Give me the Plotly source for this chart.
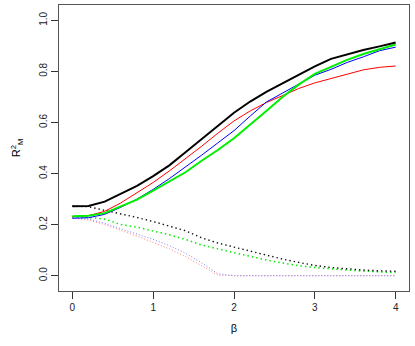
import plotly.graph_objects as go

# beta grid and R^2_M curves
beta = [0.0, 0.2, 0.4, 0.6, 0.8, 1.0, 1.2, 1.4, 1.6, 1.8, 2.0,
        2.2, 2.4, 2.6, 2.8, 3.0, 3.2, 3.4, 3.6, 3.8, 4.0]

black_solid = [0.272, 0.273, 0.290, 0.322, 0.352, 0.390, 0.432, 0.483, 0.535, 0.588, 0.638,
               0.682, 0.720, 0.753, 0.788, 0.820, 0.849, 0.867, 0.884, 0.898, 0.913]
red_solid = [0.231, 0.235, 0.252, 0.285, 0.325, 0.365, 0.410, 0.458, 0.507, 0.558, 0.606,
             0.645, 0.678, 0.705, 0.733, 0.755, 0.773, 0.790, 0.806, 0.816, 0.821]
blue_solid = [0.225, 0.227, 0.240, 0.268, 0.300, 0.338, 0.380, 0.425, 0.472, 0.520, 0.568,
              0.625, 0.680, 0.715, 0.750, 0.785, 0.808, 0.835, 0.857, 0.881, 0.895]
green_solid = [0.233, 0.235, 0.245, 0.270, 0.298, 0.333, 0.368, 0.405, 0.450, 0.492, 0.538,
               0.590, 0.645, 0.700, 0.748, 0.790, 0.819, 0.845, 0.868, 0.887, 0.905]

black_dot = [0.273, 0.270, 0.256, 0.243, 0.228, 0.212, 0.195, 0.176, 0.148, 0.128, 0.112,
             0.096, 0.081, 0.065, 0.052, 0.040, 0.032, 0.026, 0.022, 0.019, 0.017]
green_dot = [0.230, 0.228, 0.222, 0.200, 0.190, 0.175, 0.160, 0.142, 0.120, 0.105, 0.090,
             0.075, 0.061, 0.050, 0.039, 0.032, 0.026, 0.022, 0.018, 0.015, 0.012]
blue_dot = [0.227, 0.222, 0.205, 0.185, 0.162, 0.142, 0.118, 0.088, 0.050, 0.008, 0.0,
            0.0, 0.0, 0.0, 0.0, 0.0, 0.0, 0.0, 0.0, 0.0, 0.0]
red_dot = [0.225, 0.218, 0.200, 0.178, 0.155, 0.130, 0.105, 0.075, 0.040, 0.002, 0.0,
           0.0, 0.0, 0.0, 0.0, 0.0, 0.0, 0.0, 0.0, 0.0, 0.0]

x_ticks = [0, 1, 2, 3, 4]
y_ticks = [0.0, 0.2, 0.4, 0.6, 0.8, 1.0]
y_tick_labels = ["0.0", "0.2", "0.4", "0.6", "0.8", "1.0"]

FONT = "Liberation Sans, Arial, sans-serif"

fig = go.Figure()

# dotted curves first (thin ones underneath)
for ys, col, w, dash in [
    (red_dot, "#ff8080", 1, "1px,2px"),
    (blue_dot, "#8080ff", 1, "1px,2px"),
    (green_dot, "#00ee00", 1.5, "1.5px,3px"),
    (black_dot, "#111111", 1.4, "1.4px,3px"),
]:
    fig.add_trace(go.Scatter(x=beta, y=ys, mode="lines",
                             line=dict(color=col, width=w, dash=dash)))

for ys, col, w in [
    (red_solid, "red", 1),
    (blue_solid, "blue", 1),
    (green_solid, "#00ee00", 2),
    (black_solid, "black", 2),
]:
    fig.add_trace(go.Scatter(x=beta, y=ys, mode="lines",
                             line=dict(color=col, width=w)))

axis_common = dict(
    showgrid=False, zeroline=False, automargin=False,
    showline=True, mirror=True, linecolor="#555555", linewidth=1.3,
    ticks="outside", ticklen=7, tickcolor="#333333", tickwidth=1,
    tickfont=dict(family=FONT, size=10, color="#222222"),
)

fig.update_layout(
    width=415, height=346,
    margin=dict(l=59, r=6, t=5, b=55),
    paper_bgcolor="white", plot_bgcolor="white",
    showlegend=False,
    xaxis=dict(range=[-0.165, 4.165], tickvals=x_ticks,
               title=dict(text="β", standoff=12, font=dict(family=FONT, size=11, color="black")),
               **axis_common),
    yaxis=dict(range=[-0.06, 1.06], tickvals=y_ticks, ticktext=y_tick_labels, tickangle=-90,
               title=dict(text="R<sup>2</sup><sub>M</sub>", standoff=14,
                          font=dict(family=FONT, size=11, color="black")),
               **axis_common),
)

# drop the default page margin so the figure sits at the window's corner
fig.write_html("out.html", config={"displayModeBar": False},
               post_script="document.body.style.margin='0';")
